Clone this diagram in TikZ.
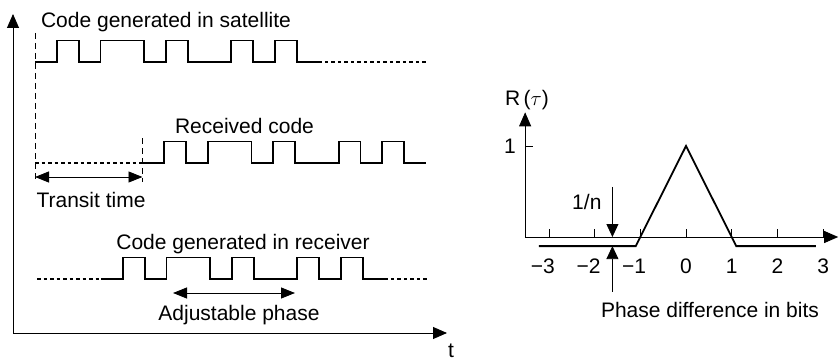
\documentclass[tikz,border=0pt]{standalone}
\usepackage{fontspec}
\setmainfont{Liberation Sans}
\usetikzlibrary{arrows.meta}

\tikzset{
  codeline/.style={line width=1.8pt, line join=miter},
  dotline/.style={line width=1.4pt, dash pattern=on 3.5pt off 3pt},
  guideline/.style={line width=0.7pt, dash pattern=on 6pt off 4pt},
  axis/.style={line width=0.9pt, -{Triangle[length=14pt,width=12pt]}},
  dimarrow/.style={line width=0.8pt, {Triangle[length=14pt,width=11pt]}-{Triangle[length=14pt,width=11pt]}},
  txt/.style={font=\fontsize{21}{25}\selectfont, anchor=base, inner sep=0pt}
}
% one period of the code, in bits
\newcommand{\prnbits}{-- ++(1,0) -- ++(0,1) -- ++(1,0) -- ++(0,-1) -- ++(1,0) -- ++(0,1) -- ++(2,0) -- ++(0,-1) -- ++(1,0) -- ++(0,1) -- ++(1,0) -- ++(0,-1) -- ++(2,0) -- ++(0,1) -- ++(1,0) -- ++(0,-1) -- ++(1,0) -- ++(0,1) -- ++(1,0) -- ++(0,-1) -- ++(1,0)}

\begin{document}
\begin{tikzpicture}[x=1pt, y=-1pt, >={Triangle[length=13pt,width=12pt]}]
  \useasboundingbox (0,0) rectangle (839,361);

  % time axes
  \coordinate (O) at (13,333);
  \coordinate (ytip) at (13,14);
  \coordinate (ttip) at (447,333);
  \draw[axis] (O) -- (ytip);
  \draw[axis] (O) -- (ttip);
  \node[txt] (tlabel) at (451,357) {t};

  % satellite code
  \begin{scope}[shift={(35,62)}, x=21.8pt, y=21.5pt]
    \coordinate (sat0) at (0,0);
    \draw[codeline] (sat0) \prnbits coordinate (sat1);
  \end{scope}
  \draw[dotline] (sat1) -- (427,62);
  \node[txt] (satlabel) at (166,28) {Code generated in satellite};

  % received code
  \begin{scope}[shift={(142.5,163)}, x=21.8pt, y=21.5pt]
    \coordinate (rcv0) at (0,0);
    \draw[codeline] (rcv0) \prnbits coordinate (rcv1);
  \end{scope}
  \draw[dotline] (sat0 |- rcv0) -- (rcv0);
  \node[txt] (rcvlabel) at (244.5,133) {Received code};

  \coordinate (g1) at (35,33);
  \coordinate (g2) at (142.5,138);
  \coordinate (tr1) at (35,177);
  \coordinate (tr2) at (142.5,177);
  \draw[guideline] (g1) -- (35,182);
  \draw[guideline] (g2) -- (142.5,182);
  \draw[dimarrow] (tr1) -- (tr2);
  \node[txt] (transit) at (91,207) {Transit time};

  % receiver code
  \begin{scope}[shift={(101,279)}, x=21.8pt, y=21.5pt]
    \coordinate (loc0) at (0,0);
    \draw[codeline] (loc0) \prnbits coordinate (loc1);
  \end{scope}
  \draw[dotline] (37,279) -- (loc0);
  \draw[dotline] (loc1) -- (427,279);
  \node[txt] (loclabel) at (243,249) {Code generated in receiver};

  \coordinate (ph1) at (173,293);
  \coordinate (ph2) at (295,293);
  \draw[dimarrow] (ph1) -- (ph2);
  \node[txt] (phase) at (239,320.5) {Adjustable phase};

  % correlation
  \begin{scope}[shift={(686,237)}, x=45.7pt, y=91pt]
    \coordinate (R0) at (-3.52,0);
    \coordinate (Rtip) at (-3.52,1.37);
    \coordinate (Xtip) at (3.33,0);
    \draw[axis] (R0) -- (Rtip);
    \draw[axis] (R0) -- (Xtip);
    \node[txt] (Rlabel) at (-3.48,1.44) {R\,($\tau$)};
    \draw[line width=0.6pt] (-3.52,1) -- (-3.345,1);
    \node[txt, anchor=east] (one) at (-3.72,1) {1};
    \foreach \k/\lab in {-3/{\llap{−}3}, -2/{\llap{−}2}, -1/{\llap{−}1}, 0/0, 1/1, 2/2, 3/3} {
      \draw[line width=0.6pt] (\k,0) -- (\k,0.088);
      \node[txt] (tick\k) at (\k,-0.396) {\lab};
    }
    \draw[codeline] (-3.22,-0.1) -- (-1.1,-0.1) -- (0,1) -- (1.1,-0.1) -- (2.84,-0.1);
    \coordinate (n1) at (-1.61,0.55);
    \coordinate (n2) at (-1.61,0);
    \coordinate (n3) at (-1.61,-0.6);
    \coordinate (n4) at (-1.61,-0.1);
    \draw[->, line width=0.8pt] (n1) -- (n2);
    \draw[->, line width=0.8pt] (n3) -- (n4);
    \node[txt] (nlabel) at (-2.17,0.297) {1/n};
    \node[txt] (xlabel) at (0.525,-0.89) {Phase difference in bits};
  \end{scope}
\end{tikzpicture}
\end{document}
